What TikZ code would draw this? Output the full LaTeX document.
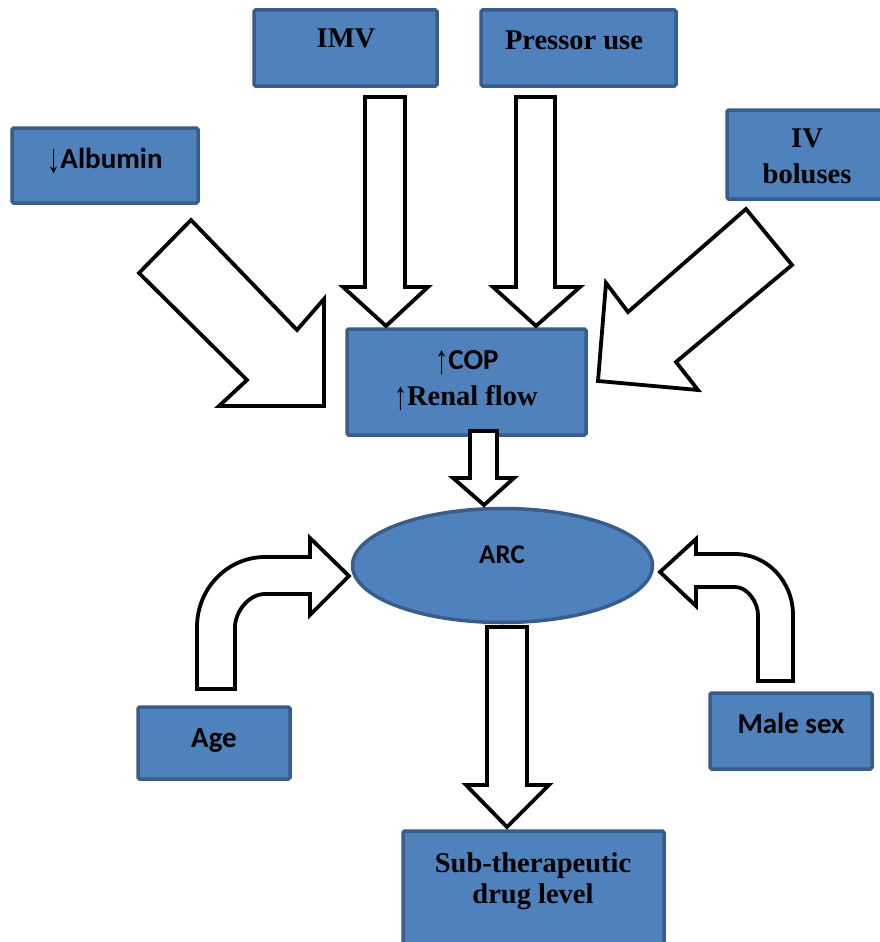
\documentclass[tikz,border=0pt]{standalone}
\usepackage{fontspec}
\setmainfont{Liberation Serif}
\newfontfamily\calib{Carlito}
\definecolor{boxfill}{HTML}{4F81BD}
\definecolor{boxedge}{HTML}{385D8A}
\newcommand{\uparr}{\raisebox{-4pt}{\scalebox{0.9}[1.4]{\rmfamily\mdseries ↑}}}
\newcommand{\downarr}{\raisebox{-4pt}{\scalebox{0.9}[1.4]{\rmfamily\mdseries ↓}}}
\tikzset{
  box/.style={draw=boxedge, fill=boxfill, line width=3.5pt, rounded corners=1.5pt, inner sep=0pt},
  blockarrow/.style={draw=black, fill=white, line width=3.8pt, line join=miter},
  lbl/.style={anchor=base, inner sep=0pt, font=\fontsize{28.5}{33}\selectfont\bfseries},
  slbl/.style={anchor=base, inner sep=0pt, font=\fontsize{29}{33}\selectfont\calib\bfseries}
}
\usetikzlibrary{shapes.geometric}
\begin{document}
\begin{tikzpicture}[x=1pt,y=-1pt]
\useasboundingbox (0,0) rectangle (880,942);
\fill[white] (0,0) rectangle (880,942);
% boxes
\node[box, minimum width=183pt, minimum height=76pt] (imv) at (345.5,48) {};
\node[box, minimum width=195pt, minimum height=76pt] (pres) at (578.5,48) {};
\node[box, minimum width=186pt, minimum height=75pt] (alb) at (105,165.5) {};
\node[box, minimum width=157pt, minimum height=89pt] (iv) at (805.5,154.5) {};
\node[box, minimum width=239pt, minimum height=106pt] (cop) at (466.5,382) {};
\node[box, ellipse, minimum width=300pt, minimum height=114pt] (arc) at (502.5,565.5) {};
\node[box, minimum width=152pt, minimum height=72pt] (age) at (214,743) {};
\node[box, minimum width=162pt, minimum height=76pt] (male) at (791,731) {};
\node[box, minimum width=261pt, minimum height=115pt] (sub) at (533.5,888.5) {};
% labels
\node[lbl] (timv) at (346,48) {IMV};
\node[lbl] (tpres) at (574,50) {Pressor use};
\node[slbl] (talb) at (105,168) {\downarr Albumin};
\node[lbl] (tiv1) at (807,147) {IV};
\node[lbl] (tiv2) at (807,183) {boluses};
\node[slbl] (tcop) at (467,369) {\uparr COP};
\node[lbl] (tren) at (466,405) {\uparr Renal flow};
\node[slbl,font=\fontsize{27}{30}\selectfont\calib\bfseries] (tarc) at (502,563) {ARC};
\node[slbl] (tage) at (214,747) {Age};
\node[slbl] (tmale) at (791,733) {Male sex};
\node[lbl] (tsub1) at (533,872) {Sub-therapeutic};
\node[lbl] (tsub2) at (533,903) {drug level};
% block arrows
\draw[blockarrow] (365,97) -- (405,97) -- (405,287) -- (428,287) -- (386,326) -- (343,287) -- (365,287) -- cycle;
\draw[blockarrow] (516,97) -- (555,97) -- (555,287) -- (580,287) -- (536,326) -- (493,287) -- (516,287) -- cycle;
\draw[blockarrow] (191,220) -- (297,330) -- (324,299) -- (324,406) -- (219,406) -- (247,380) -- (139,273) -- cycle;
\draw[blockarrow] (746,209) -- (792,265) -- (676,362) -- (698,390) -- (598,381) -- (606,283) -- (628,312) -- cycle;
\draw[blockarrow] (470,431) -- (497,431) -- (497,478) -- (514,478) -- (484,505) -- (453,478) -- (470,478) -- cycle;
\draw[blockarrow] (487,627) -- (527,627) -- (527,785) -- (549,785) -- (507,827) -- (466,785) -- (487,785) -- cycle;
\draw[blockarrow] (197,689) -- (197,627) .. controls (197,588.4) and (227.5,557) .. (265,557) -- (310,557) -- (310,538) -- (349,576) -- (310,615) -- (310,594) -- (265,594) .. controls (248.4,594) and (235,612.2) .. (235,627) -- (235,689) -- cycle;
\draw[blockarrow] (793,681) -- (793,615) .. controls (793,581.3) and (767,554) .. (735,554) -- (696,554) -- (696,539) -- (660,572) -- (696,606) -- (696,587) -- (735,587) .. controls (747.7,587) and (758,602.5) .. (758,615) -- (758,681) -- cycle;
\end{tikzpicture}
\end{document}
